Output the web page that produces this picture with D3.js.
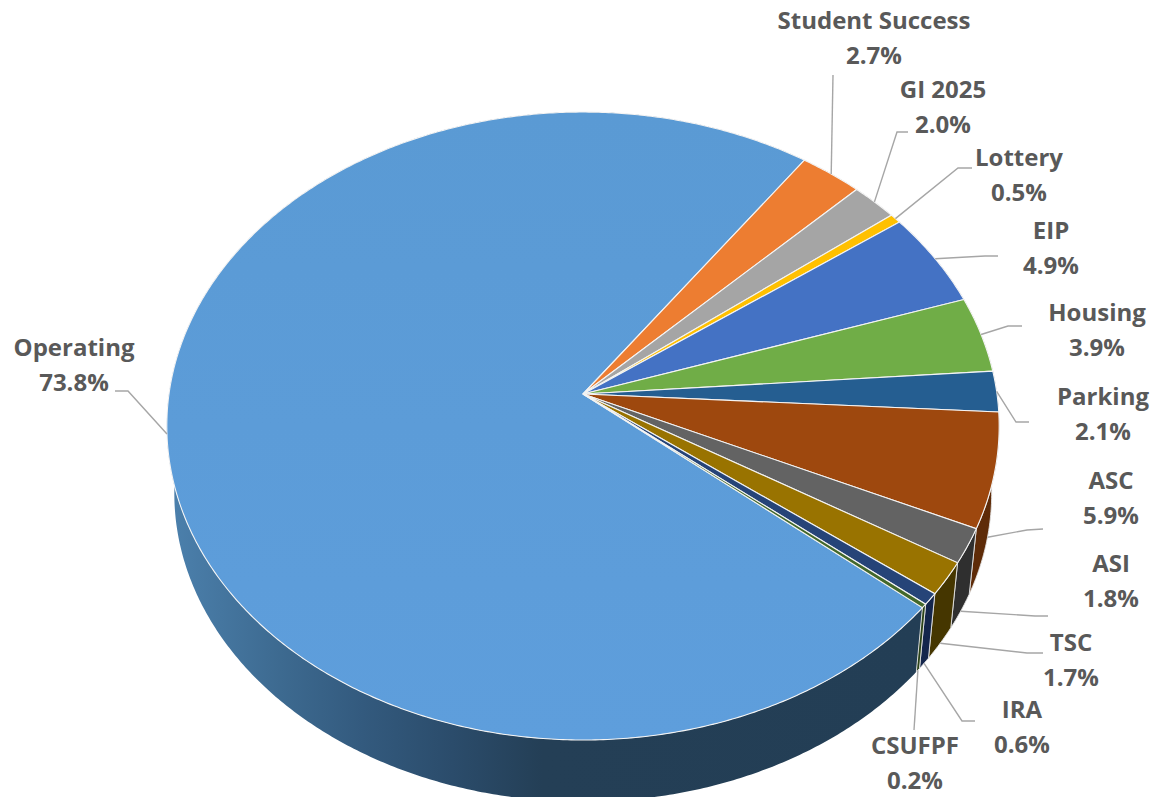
<!DOCTYPE html>
<html>
<head>
<meta charset="utf-8">
<script src="https://cdn.jsdelivr.net/npm/d3@7"></script>
<style>
html,body{margin:0;padding:0;background:#fff;overflow:hidden}
text{font-family:"Open Sans",sans-serif;font-weight:700;font-size:24px;fill:#595959;text-anchor:middle}
</style>
</head>
<body>
<svg id="chart" width="1155" height="797"></svg>
<script>
// Funding sources, in drawing order, clockwise
const categories = ["Operating","Student Success","GI 2025","Lottery","EIP","Housing","Parking","ASC","ASI","TSC","IRA","CSUFPF"];
const shares = [73.8,2.7,2.0,0.5,4.9,3.9,2.1,5.9,1.8,1.7,0.6,0.2];

const topColors = ["#5b9bd5","#ed7d31","#a5a5a5","#ffc000","#4472c4","#70ad47","#255e91","#9e480e","#636363","#997300","#264478","#43682b"];
const wallColors = ["url(#operatingWall)","#8f4a1c","#666666","#997400","#2a4680","#44692b","#16395a","#5e2b08","#2f2f2f","#453600","#14264c","#2c4419"];

// Label centres and the bends of each leader line
const labelX = [74,874,943,1019,1051,1097,1103,1111,1111,1071,1022,915];
const labelY = [348,21,90,158,231,313,397,481,564,643,710,746];
const leaderBends = [
  [[128,391],[115,391]],
  [[833,75]],
  [[897,132],[908,132]],
  [[958,168],[972,168]],
  [[985,256],[998,256]],
  [[1008,326],[1022,326]],
  [[1016,422],[1029,422]],
  [[1027,530],[1043,529]],
  [[1035,616],[1048,616]],
  [[1027,653],[1043,653]],
  [[962,721],[975,721]],
  [[914,730]]
];

const svg = d3.select("#chart");

// Perspective view of the pie's top face
const apex = {x:583, y:394}, spanX = 414, spanY = 310.7, tilt = 0.102;
const depth = {scale:0.982, drop:68};
const deg = Math.PI/180;
function rim(a){
  const u = Math.sin(a), v = -Math.cos(a), w = 1 - tilt*v;
  return [apex.x + spanX*u/w, apex.y + spanY*v/w];
}
function floor(a){
  const [x,y] = rim(a);
  return [apex.x + (x-apex.x)*depth.scale, apex.y + depth.drop + (y-apex.y)*depth.scale];
}

const firstAngle = 35.4*deg - shares[0]/d3.sum(shares)*2*Math.PI;
const arcs = d3.pie().sort(null).startAngle(firstAngle).endAngle(firstAngle+2*Math.PI)(shares);

function sweep(d){
  const n = Math.max(2, Math.ceil((d.endAngle-d.startAngle)/(0.5*deg)));
  return d3.range(n+1).map(i => d.startAngle + (d.endAngle-d.startAngle)*i/n);
}
const path = d3.line();

const defs = svg.append("defs");
const wallGrad = defs.append("linearGradient").attr("id","operatingWall")
  .attr("gradientUnits","userSpaceOnUse").attr("x1",175).attr("x2",925).attr("y1",0).attr("y2",0);
[[0,"#4b7fab"],[0.14,"#3d6a90"],[0.25,"#335a7e"],[0.37,"#2b4c6b"],[0.49,"#243f56"],[1,"#233e55"]]
  .forEach(([o,c]) => wallGrad.append("stop").attr("offset",o).attr("stop-color",c));
const faceGrad = defs.append("linearGradient").attr("id","operatingFace")
  .attr("x1",0).attr("x2",0).attr("y1",0).attr("y2",1);
[[0,"#5a9ad4"],[1,"#5e9edc"]]
  .forEach(([o,c]) => faceGrad.append("stop").attr("offset",o).attr("stop-color",c));

// Outer walls first, the top face is laid over them
svg.append("g").selectAll("path").data(arcs).join("path")
  .attr("d", d => {
    const s = sweep(d);
    return path(s.map(rim).concat(s.slice().reverse().map(floor))) + "Z";
  })
  .attr("fill", d => wallColors[d.index])
  .attr("stroke", d => d.index === 0 ? "none" : "#e4e4e4")
  .attr("stroke-width", 0.9);

svg.append("g").selectAll("path").data(arcs).join("path")
  .attr("d", d => path([[apex.x,apex.y]].concat(sweep(d).map(rim))) + "Z")
  .attr("fill", d => d.index === 0 ? "url(#operatingFace)" : topColors[d.index])
  .attr("stroke", "#f4f4f4")
  .attr("stroke-width", 1.1);

// Leaders start on the wall's lower edge where the wall is in view
function anchor(d){
  const mid = (d.startAngle+d.endAngle)/2;
  return (mid > 100*deg && mid < 180*deg) ? floor(mid) : rim(mid);
}
svg.append("g").selectAll("path").data(arcs).join("path")
  .attr("d", d => path([anchor(d)].concat(leaderBends[d.index])))
  .attr("fill","none").attr("stroke","#a6a6a6").attr("stroke-width",1.4);

const labels = svg.append("g").selectAll("g").data(categories).join("g");
labels.append("text").attr("x",(d,i)=>labelX[i]).attr("y",(d,i)=>labelY[i]+8).text(d=>d);
labels.append("text").attr("x",(d,i)=>labelX[i]).attr("y",(d,i)=>labelY[i]+43)
  .text((d,i)=>shares[i].toFixed(1)+"%");
</script>
</body>
</html>
